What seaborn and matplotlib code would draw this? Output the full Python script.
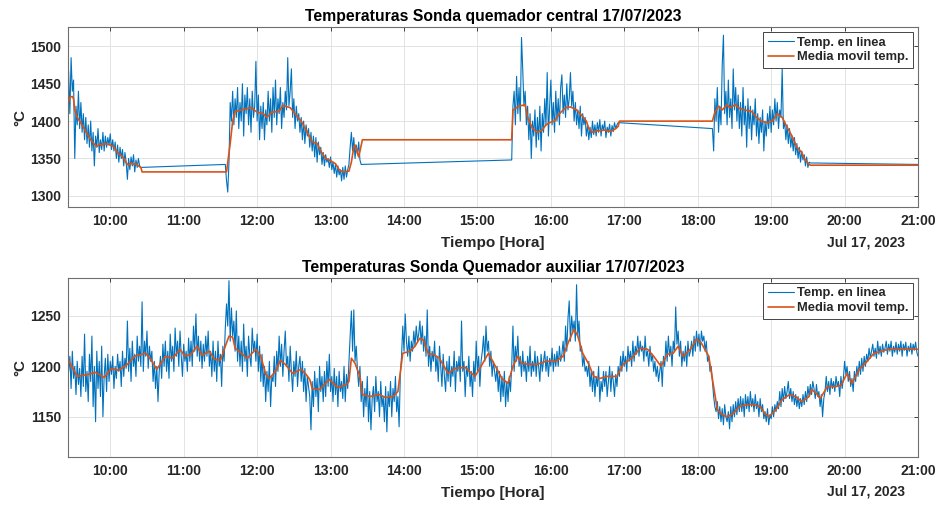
import matplotlib
matplotlib.use("Agg")
import matplotlib.pyplot as plt
import matplotlib.dates as mdates
import pandas as pd
import seaborn as sns

FECHA = "2023-07-17 "

# --- Sonda quemador central: tramos con datos (muestras de 1 min) ---
central_inicio = ["09:25", "11:34", "15:28", "18:12", "21:00"]
central_tramo_a = [
    1490, 1465, 1410, 1485, 1440, 1455, 1350, 1420, 1395, 1440,
    1390, 1425, 1385, 1410, 1375, 1405, 1370, 1395, 1365, 1400,
    1360, 1385, 1340, 1380, 1365, 1390, 1358, 1375, 1362, 1385,
    1360, 1380, 1365, 1378, 1368, 1383, 1362, 1375, 1360, 1372,
    1350, 1368, 1345, 1365, 1350, 1362, 1340, 1358, 1345, 1322,
    1350, 1335, 1352, 1340, 1355, 1332, 1348, 1338, 1350, 1340,
    1338]
central_tramo_b = [
    1342, 1320, 1305, 1345, 1425, 1400, 1440, 1395, 1430, 1405,
    1445, 1390, 1425, 1400, 1450, 1380, 1435, 1410, 1445, 1395,
    1430, 1385, 1440, 1405, 1420, 1480, 1400, 1435, 1375, 1420,
    1390, 1425, 1375, 1415, 1395, 1440, 1400, 1430, 1385, 1445,
    1405, 1455, 1395, 1430, 1410, 1445, 1390, 1425, 1405, 1440,
    1415, 1485, 1420, 1440, 1470, 1405, 1430, 1390, 1420, 1400,
    1410, 1385, 1405, 1375, 1400, 1370, 1395, 1380, 1390, 1365,
    1385, 1360, 1380, 1352, 1378, 1345, 1372, 1355, 1365, 1342,
    1358, 1340, 1355, 1345, 1350, 1338, 1352, 1335, 1345, 1330,
    1342, 1325, 1340, 1328, 1335, 1320, 1338, 1322, 1340, 1325,
    1335, 1342, 1365, 1385, 1360, 1378, 1350, 1368, 1355, 1372, 1348, 1342]
central_tramo_c = [
    1348, 1420, 1440, 1395, 1460, 1410, 1445, 1400, 1512, 1470,
    1420, 1440, 1395, 1420, 1375, 1410, 1350, 1400, 1380, 1415,
    1365, 1405, 1375, 1420, 1360, 1410, 1385, 1430, 1395, 1465,
    1380, 1420, 1455, 1395, 1425, 1385, 1440, 1400, 1430, 1395,
    1445, 1462, 1410, 1435, 1405, 1450, 1415, 1430, 1465, 1420,
    1440, 1400, 1425, 1395, 1415, 1390, 1420, 1380, 1410, 1395,
    1405, 1380, 1395, 1375, 1392, 1378, 1400, 1382, 1395, 1380,
    1398, 1385, 1402, 1380, 1395, 1388, 1400, 1378, 1392, 1385,
    1396, 1380, 1394, 1386, 1398, 1390, 1395, 1398]
central_tramo_d = [
    1390, 1360, 1430, 1400, 1445, 1385, 1420, 1395, 1475, 1515,
    1410, 1440, 1395, 1455, 1405, 1430, 1390, 1470, 1415, 1445,
    1400, 1435, 1390, 1425, 1380, 1445, 1395, 1420, 1365, 1430,
    1390, 1420, 1375, 1415, 1395, 1430, 1380, 1410, 1370, 1405,
    1385, 1415, 1360, 1400, 1380, 1410, 1390, 1420, 1385, 1415,
    1395, 1430, 1400, 1425, 1390, 1415, 1405, 1470, 1390, 1400,
    1375, 1395, 1370, 1390, 1365, 1380, 1360, 1378, 1355, 1370,
    1350, 1365, 1345, 1360, 1348, 1355, 1340, 1352, 1338, 1345, 1344]
central_tramo_e = [1342]

media_central_horas = [
    "09:25", "09:26", "09:27", "09:29", "09:30", "09:31", "09:33", "09:35", "09:38", "09:41",
    "09:44", "09:47", "09:49", "09:51", "09:53", "09:55", "09:58", "10:00", "10:03", "10:05",
    "10:07", "10:09", "10:11", "10:13", "10:15", "10:17", "10:19", "10:21", "10:23", "10:25",
    "10:26", "11:35", "11:38", "11:40", "11:42", "11:45", "11:50", "11:55", "12:00", "12:05",
    "12:08", "12:12", "12:18", "12:21", "12:27", "12:31", "12:36", "12:41", "12:45", "12:49",
    "12:52", "12:56", "13:00", "13:04", "13:07", "13:10", "13:15", "13:17", "13:19", "13:20",
    "13:23", "13:26", "15:28", "15:29", "15:34", "15:39", "15:41", "15:45", "15:49", "15:53",
    "15:56", "15:59", "16:03", "16:07", "16:12", "16:16", "16:21", "16:25", "16:29", "16:31",
    "16:34", "16:38", "16:44", "16:49", "16:53", "16:55", "16:56", "18:12", "18:14", "18:17",
    "18:20", "18:24", "18:26", "18:31", "18:33", "18:38", "18:44", "18:48", "18:52", "18:57",
    "19:01", "19:05", "19:09", "19:12", "19:17", "19:21", "19:25", "19:27", "19:31", "19:32",
    "21:00"]
media_central_valores = [
    1425, 1426, 1432, 1433, 1430, 1415, 1405, 1400, 1392, 1383,
    1375, 1369, 1366, 1369, 1368, 1370, 1369, 1368, 1366, 1360,
    1356, 1354, 1350, 1344, 1341, 1344, 1342, 1343, 1340, 1338,
    1332, 1332, 1370, 1400, 1413, 1414, 1416, 1418, 1412, 1410,
    1405, 1412, 1413, 1421, 1418, 1410, 1400, 1385, 1372, 1370,
    1360, 1350, 1347, 1343, 1335, 1332, 1333, 1345, 1365, 1368,
    1352, 1375, 1375, 1415, 1420, 1422, 1405, 1390, 1385, 1388,
    1395, 1398, 1400, 1410, 1418, 1419, 1415, 1408, 1400, 1390,
    1385, 1387, 1388, 1386, 1390, 1393, 1400, 1400, 1412, 1420,
    1415, 1422, 1418, 1422, 1418, 1415, 1413, 1405, 1400, 1398,
    1400, 1410, 1405, 1395, 1380, 1365, 1358, 1350, 1342, 1341,
    1341]

# --- Sonda quemador auxiliar: 1 min desde 09:25 ---
aux_inicio = "09:25"
aux_valores = [
    1225, 1195, 1210, 1178, 1215, 1188, 1200, 1172, 1205, 1182,
    1198, 1170, 1210, 1180, 1232, 1175, 1195, 1165, 1212, 1185,
    1230, 1160, 1200, 1145, 1215, 1178, 1205, 1170, 1220, 1150,
    1190, 1208, 1175, 1212, 1185, 1205, 1192, 1210, 1178, 1200,
    1188, 1212, 1195, 1205, 1180, 1215, 1190, 1208, 1198, 1245,
    1195, 1218, 1185, 1225, 1200, 1212, 1190, 1230, 1205, 1220,
    1200, 1264, 1195, 1225, 1210, 1235, 1198, 1220, 1205, 1215,
    1185, 1205, 1178, 1200, 1165, 1195, 1210, 1188, 1222, 1200,
    1225, 1195, 1215, 1188, 1232, 1205, 1220, 1195, 1238, 1210,
    1225, 1200, 1235, 1210, 1190, 1222, 1205, 1215, 1195, 1228,
    1205, 1225, 1200, 1240, 1215, 1252, 1210, 1230, 1205, 1225,
    1198, 1222, 1205, 1230, 1210, 1235, 1200, 1215, 1190, 1225,
    1195, 1215, 1185, 1225, 1200, 1212, 1180, 1220, 1205, 1238,
    1262, 1240, 1285, 1225, 1258, 1230, 1245, 1215, 1255, 1205,
    1230, 1200, 1225, 1195, 1242, 1205, 1220, 1190, 1230, 1210,
    1200, 1238, 1215, 1225, 1205, 1232, 1195, 1220, 1185, 1212,
    1180, 1200, 1165, 1195, 1175, 1205, 1160, 1190, 1185, 1210,
    1180, 1215, 1195, 1230, 1200, 1222, 1190, 1215, 1235, 1200,
    1210, 1185, 1220, 1195, 1175, 1205, 1190, 1215, 1180, 1200,
    1210, 1185, 1205, 1175, 1198, 1165, 1190, 1180, 1170, 1137,
    1185, 1160, 1195, 1170, 1188, 1155, 1200, 1175, 1190, 1165,
    1195, 1170, 1205, 1180, 1212, 1175, 1190, 1165, 1198, 1172,
    1190, 1160, 1195, 1175, 1185, 1168, 1200, 1165, 1192, 1178,
    1205, 1230, 1255, 1215, 1256, 1205, 1220, 1195, 1180, 1200,
    1165, 1185, 1150, 1178, 1160, 1190, 1145, 1175, 1137, 1168,
    1180, 1155, 1190, 1165, 1175, 1150, 1185, 1160, 1170, 1145,
    1180, 1135, 1175, 1160, 1185, 1150, 1178, 1165, 1190, 1155,
    1170, 1140, 1192, 1210, 1240, 1215, 1252, 1225, 1210, 1230,
    1205, 1225, 1215, 1235, 1220, 1240, 1225, 1232, 1245, 1222,
    1240, 1215, 1230, 1210, 1256, 1200, 1220, 1195, 1215, 1205,
    1225, 1195, 1210, 1185, 1220, 1200, 1180, 1212, 1190, 1175,
    1205, 1185, 1210, 1180, 1200, 1190, 1215, 1175, 1205, 1195,
    1210, 1185, 1245, 1195, 1205, 1170, 1200, 1190, 1210, 1180,
    1195, 1170, 1205, 1185, 1225, 1195, 1210, 1180, 1205, 1215,
    1230, 1205, 1240, 1215, 1225, 1200, 1215, 1190, 1205, 1195,
    1185, 1200, 1175, 1195, 1165, 1190, 1170, 1195, 1160, 1185,
    1165, 1190, 1175, 1200, 1240, 1195, 1220, 1205, 1230, 1200,
    1210, 1190, 1215, 1195, 1205, 1185, 1210, 1195, 1220, 1190,
    1205, 1195, 1215, 1190, 1210, 1200, 1185, 1212, 1195, 1205,
    1215, 1195, 1210, 1190, 1208, 1200, 1218, 1195, 1212, 1200,
    1215, 1200, 1220, 1205, 1212, 1225, 1205, 1240, 1215, 1248,
    1265, 1225, 1250, 1235, 1245, 1225, 1281, 1230, 1245, 1215,
    1220, 1200, 1210, 1195, 1200, 1190, 1205, 1180, 1195, 1175,
    1195, 1170, 1190, 1180, 1200, 1165, 1185, 1175, 1195, 1180,
    1195, 1170, 1185, 1200, 1175, 1195, 1185, 1170, 1192, 1180,
    1200, 1190, 1210, 1195, 1215, 1200, 1210, 1195, 1220, 1205,
    1215, 1200, 1225, 1205, 1220, 1212, 1230, 1210, 1225, 1215,
    1220, 1205, 1230, 1210, 1215, 1200, 1220, 1205, 1212, 1195,
    1205, 1190, 1200, 1185, 1195, 1205, 1180, 1210, 1200, 1225,
    1205, 1230, 1210, 1220, 1200, 1225, 1215, 1259, 1222, 1235,
    1210, 1225, 1200, 1215, 1205, 1220, 1200, 1225, 1210, 1215,
    1225, 1210, 1230, 1215, 1235, 1220, 1232, 1215, 1235, 1225,
    1230, 1215, 1225, 1205, 1210, 1195, 1200, 1185, 1170, 1160,
    1155, 1165, 1148, 1160, 1145, 1158, 1142, 1162, 1150, 1145,
    1155, 1138, 1160, 1145, 1162, 1150, 1165, 1152, 1168, 1155,
    1170, 1155, 1168, 1150, 1172, 1158, 1170, 1155, 1175, 1160,
    1168, 1155, 1172, 1158, 1165, 1150, 1168, 1155, 1162, 1148,
    1155, 1145, 1158, 1142, 1152, 1148, 1160, 1150, 1162, 1155,
    1165, 1158, 1175, 1160, 1178, 1165, 1180, 1168, 1175, 1185,
    1168, 1178, 1165, 1175, 1162, 1172, 1160, 1170, 1158, 1168,
    1160, 1172, 1162, 1175, 1165, 1180, 1170, 1182, 1172, 1185,
    1178, 1168, 1182, 1170, 1175, 1160, 1172, 1150, 1168, 1175,
    1190, 1175, 1185, 1172, 1188, 1178, 1185, 1175, 1190, 1180,
    1185, 1170, 1190, 1178, 1188, 1205, 1192, 1200, 1185, 1195,
    1180, 1188, 1175, 1195, 1185, 1200, 1190, 1205, 1192, 1208,
    1195, 1210, 1200, 1212, 1205, 1218, 1208, 1215, 1222, 1210,
    1218, 1208, 1225, 1212, 1220, 1210, 1222, 1214, 1218, 1225,
    1212, 1222, 1215, 1225, 1210, 1220, 1214, 1224, 1212, 1222,
    1215, 1225, 1210, 1222, 1216, 1224, 1210, 1220, 1215, 1223,
    1212, 1222, 1216, 1224, 1214, 1210]

media_aux_horas = [
    "09:25", "09:33", "09:42", "09:48", "09:55", "10:01", "10:07", "10:14", "10:20", "10:29",
    "10:33", "10:38", "10:45", "10:51", "10:57", "11:01", "11:06", "11:11", "11:15", "11:21",
    "11:25", "11:30", "11:34", "11:37", "11:40", "11:42", "11:49", "11:52", "11:59", "12:03",
    "12:07", "12:10", "12:15", "12:19", "12:23", "12:29", "12:36", "12:40", "12:43", "12:45",
    "12:51", "12:55", "12:59", "13:03", "13:06", "13:13", "13:15", "13:17", "13:20", "13:24",
    "13:26", "13:32", "13:40", "13:45", "13:51", "13:55", "13:59", "14:05", "14:09", "14:13",
    "14:16", "14:20", "14:24", "14:29", "14:36", "14:42", "14:50", "14:58", "15:02", "15:09",
    "15:16", "15:20", "15:25", "15:29", "15:33", "15:36", "15:42", "15:49", "15:56", "16:04",
    "16:10", "16:14", "16:19", "16:22", "16:26", "16:31", "16:35", "16:40", "16:46", "16:54",
    "16:59", "17:06", "17:13", "17:19", "17:24", "17:30", "17:35", "17:40", "17:44", "17:48",
    "17:54", "17:59", "18:03", "18:09", "18:13", "18:16", "18:20", "18:24", "18:29", "18:34",
    "18:40", "18:46", "18:51", "18:55", "18:58", "19:04", "19:09", "19:15", "19:20", "19:25",
    "19:31", "19:33", "19:37", "19:40", "19:46", "19:53", "19:57", "20:02", "20:06", "20:12",
    "20:17", "20:24", "20:30", "20:36", "20:43", "20:51", "21:00"]
media_aux_valores = [
    1208, 1190, 1192, 1194, 1189, 1198, 1196, 1202, 1210, 1213,
    1207, 1197, 1210, 1208, 1217, 1210, 1212, 1220, 1211, 1215,
    1207, 1206, 1220, 1230, 1229, 1218, 1211, 1208, 1217, 1210,
    1192, 1188, 1195, 1206, 1202, 1193, 1197, 1192, 1187, 1178,
    1177, 1182, 1187, 1182, 1179, 1182, 1185, 1208, 1203, 1190,
    1172, 1170, 1172, 1169, 1170, 1175, 1213, 1215, 1220, 1228,
    1226, 1212, 1212, 1208, 1193, 1198, 1199, 1190, 1198, 1213,
    1197, 1188, 1183, 1200, 1210, 1203, 1202, 1202, 1205, 1205,
    1210, 1223, 1237, 1230, 1213, 1202, 1190, 1188, 1190, 1190,
    1202, 1208, 1218, 1217, 1210, 1200, 1212, 1213, 1220, 1210,
    1217, 1227, 1223, 1210, 1180, 1157, 1152, 1150, 1153, 1160,
    1162, 1162, 1160, 1153, 1150, 1157, 1167, 1172, 1170, 1165,
    1170, 1177, 1173, 1168, 1180, 1180, 1181, 1193, 1183, 1197,
    1203, 1213, 1215, 1217, 1217, 1217, 1217]

AZUL = "#0072BD"
NARANJA = "#D95319"


def horas(lista):
    return pd.to_datetime([FECHA + h for h in lista])


tramos = [central_tramo_a, central_tramo_b, central_tramo_c, central_tramo_d, central_tramo_e]
partes = []
for inicio, valores in zip(central_inicio, tramos):
    t = pd.date_range(FECHA + inicio, periods=len(valores), freq="min")
    partes.append(pd.DataFrame({"tiempo": t, "temp": valores}))
central = pd.concat(partes, ignore_index=True)
media_central = pd.DataFrame({"tiempo": horas(media_central_horas), "temp": media_central_valores})

aux = pd.DataFrame({"tiempo": pd.date_range(FECHA + aux_inicio, periods=len(aux_valores), freq="min"),
                    "temp": aux_valores})
media_aux = pd.DataFrame({"tiempo": horas(media_aux_horas), "temp": media_aux_valores})

sns.set_style("whitegrid")
plt.rcParams["font.family"] = ["Liberation Sans", "DejaVu Sans"]
plt.rcParams["font.weight"] = "bold"
plt.rcParams["axes.labelweight"] = "bold"
plt.rcParams["axes.titleweight"] = "bold"

fig = plt.figure(figsize=(9.41, 5.07), dpi=100)
ax1 = fig.add_axes([0.0723, 0.5917, 0.9033, 0.355])
ax2 = fig.add_axes([0.0723, 0.0986, 0.9033, 0.3537])

paneles = [
    (ax1, central, media_central, "Temperaturas Sonda quemador central 17/07/2023",
     (1285, 1526), [1300, 1350, 1400, 1450, 1500]),
    (ax2, aux, media_aux, "Temperaturas Sonda Quemador auxiliar 17/07/2023",
     (1110, 1288), [1150, 1200, 1250]),
]

for ax, crudo, media, titulo, ylim, yticks in paneles:
    sns.lineplot(data=crudo, x="tiempo", y="temp", ax=ax, color=AZUL, linewidth=0.8,
                 errorbar=None, label="Temp. en linea")
    sns.lineplot(data=media, x="tiempo", y="temp", ax=ax, color=NARANJA, linewidth=1.2,
                 errorbar=None, label="Media movil temp.")
    ax.set_xlim(pd.Timestamp(FECHA + "09:25:30"), pd.Timestamp(FECHA + "21:00"))
    ax.set_ylim(*ylim)
    ax.set_yticks(yticks)
    ax.xaxis.set_major_locator(mdates.HourLocator())
    ax.xaxis.set_major_formatter(mdates.DateFormatter("%H:%M"))
    ax.set_title(titulo, fontsize=11.3, pad=4, color="black")
    ax.set_xlabel("Tiempo [Hora]", fontsize=11, labelpad=6, color="#262626")
    ax.set_ylabel("°C", fontsize=11, labelpad=2, color="#262626")
    ax.text(0.985, -0.195, "Jul 17, 2023", transform=ax.transAxes, ha="right", va="center",
            fontsize=10, fontweight="bold", color="#262626")
    ax.tick_params(axis="both", labelsize=10, colors="#262626", direction="in", length=3,
                   width=0.6, top=True, right=True, pad=5)
    ax.grid(True, color="#e3e3e3", linewidth=0.7)
    for lado in ax.spines.values():
        lado.set_color("#6e6e6e")
        lado.set_linewidth(0.8)
    leg = ax.legend(loc="upper right", fontsize=9.3, fancybox=False, framealpha=1,
                    edgecolor="#262626", handlelength=2.0, handletextpad=0.25,
                    borderpad=0.35, labelspacing=0.2, borderaxespad=0.4)
    leg.get_frame().set_linewidth(0.6)
    for texto in leg.get_texts():
        texto.set_fontweight("bold")

fig.savefig("out.png", dpi=100)
